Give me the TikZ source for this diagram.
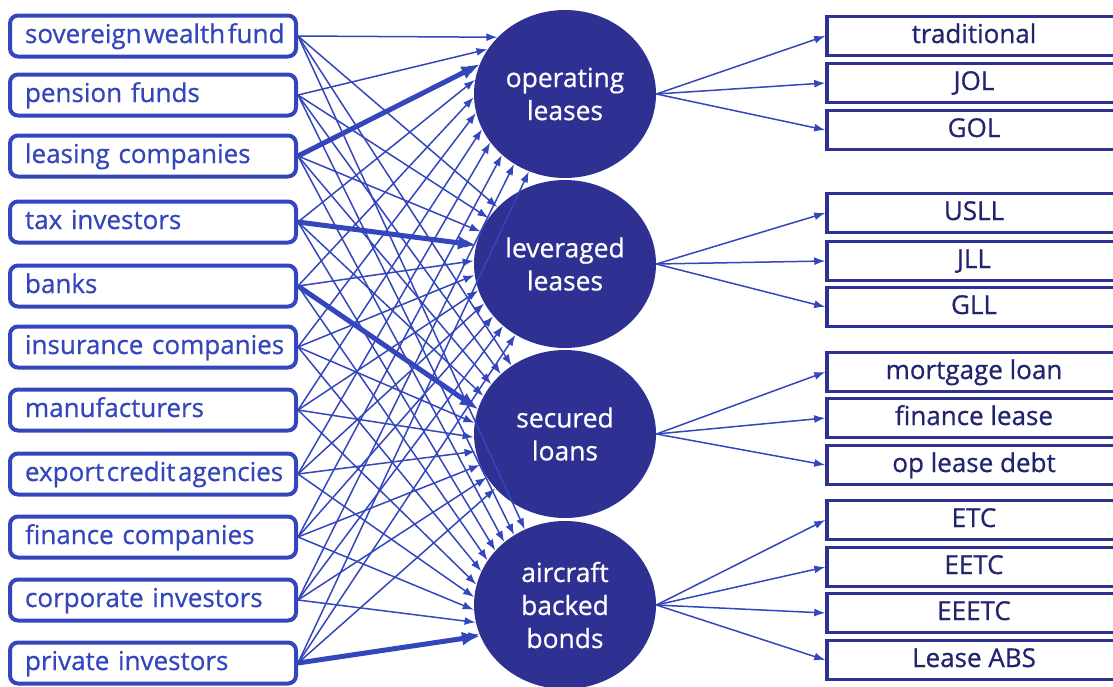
\documentclass[tikz,border=0pt]{standalone}
\usepackage{fontspec}
\setmainfont{Open Sans}[FakeBold=0.7]
\usetikzlibrary{shapes.geometric,arrows.meta}
\definecolor{ingblue}{HTML}{3446BC}
\definecolor{ingnavy}{HTML}{2E3192}
\definecolor{ingtext}{HTML}{22256E}
\tikzset{
    source/.style={draw=ingblue,line width=2pt,rounded corners=4pt,minimum height=20.5pt,
        text width=128pt,inner xsep=7.5pt,align=left,text=ingblue,
        text height=10pt,text depth=3pt,font=\fontsize{13}{15}\selectfont,
        execute at begin node=\hbox\bgroup,execute at end node=\egroup},
    product/.style={ellipse,fill=ingnavy,minimum width=91pt,minimum height=84pt,inner sep=0pt,
        text=white,align=center,font=\fontsize{13.2}{16.5}\selectfont},
    variant/.style={draw=ingnavy,line width=1.75pt,minimum width=147pt,minimum height=17.5pt,
        text=ingtext,text height=10pt,text depth=3pt,font=\fontsize{13}{15}\selectfont},
    feed/.style={draw=ingblue,line width=0.75pt,-{Latex[length=5.5pt,width=4pt]}},
    mainfeed/.style={draw=ingblue,line width=2.5pt,-{Latex[length=9pt,width=7pt]}}
}
\begin{document}
\begin{tikzpicture}[x=0.5pt,y=-0.5pt]
        \useasboundingbox(0,0)rectangle(1113,686);
        \clip(0,0)rectangle(1113,686);
        % who puts the money in
        \node[source](1)at(153,36){{\spaceskip=0.1em\relax sovereign wealth fund}};
        \node[source](2)at(153,95){pension funds};
        \node[source](3)at(153,156){leasing companies};
        \node[source](4)at(153,222){tax investors};
        \node[source](5)at(153,286){banks};
        \node[source](6)at(153,347){insurance companies};
        \node[source](7)at(153,410){manufacturers};
        \node[source](8)at(153,474){{\spaceskip=0.1em\relax export credit agencies}};
        \node[source](9)at(153,537){finance companies};
        \node[source](10)at(153,600){corporate investors};
        \node[source](11)at(153,663){private investors};
        % the four products
        \node[product](op)at(565,94){operating\\leases};
        \node[product](lev)at(565,264){leveraged\\leases};
        \node[product](sec)at(565,434){secured\\loans};
        \node[product](abb)at(565,605){aircraft\\backed\\bonds};
        % variants
        \node[variant](trad)at(974,36){traditional};
        \node[variant](jol)at(974,83){JOL};
        \node[variant](gol)at(974,130){GOL};
        \node[variant](usll)at(974,213){USLL};
        \node[variant](jll)at(974,261){JLL};
        \node[variant](gll)at(974,307){GLL};
        \node[variant](mort)at(974,372){mortgage loan};
        \node[variant](fin)at(974,418){finance lease};
        \node[variant](debt)at(974,465){op lease debt};
        \node[variant](etc)at(974,520){ETC};
        \node[variant](eetc)at(974,567){EETC};
        \node[variant](eeetc)at(974,613){EEETC};
        \node[variant](abs)at(974,660){Lease ABS};
        % every source feeds every product
        \foreach \c/\a/\d in {op/140/10.5,lev/140/9.5,sec/128/9,abb/118/8.2}
            \foreach \i in {1,...,11}{
                \pgfmathtruncatemacro\ang{\a+\d*(\i-1)}
                \draw[feed](\i.east)--(\c.\ang);
            }
        \draw[mainfeed](3.east)--(op.161);
        \draw[mainfeed](4.east)--(lev.168);
        \draw[mainfeed](5.east)--(sec.164);
        \draw[mainfeed](11.east)--(abb.200);
        \draw[feed](op.east)--(trad.west);
        \draw[feed](op.east)--(jol.west);
        \draw[feed](op.east)--(gol.west);
        \draw[feed](lev.east)--(usll.west);
        \draw[feed](lev.east)--(jll.west);
        \draw[feed](lev.east)--(gll.west);
        \draw[feed](sec.east)--(mort.west);
        \draw[feed](sec.east)--(fin.west);
        \draw[feed](sec.east)--(debt.west);
        \draw[feed](abb.east)--(etc.west);
        \draw[feed](abb.east)--(eetc.west);
        \draw[feed](abb.east)--(eeetc.west);
        \draw[feed](abb.east)--(abs.west);
\end{tikzpicture}
\end{document}
